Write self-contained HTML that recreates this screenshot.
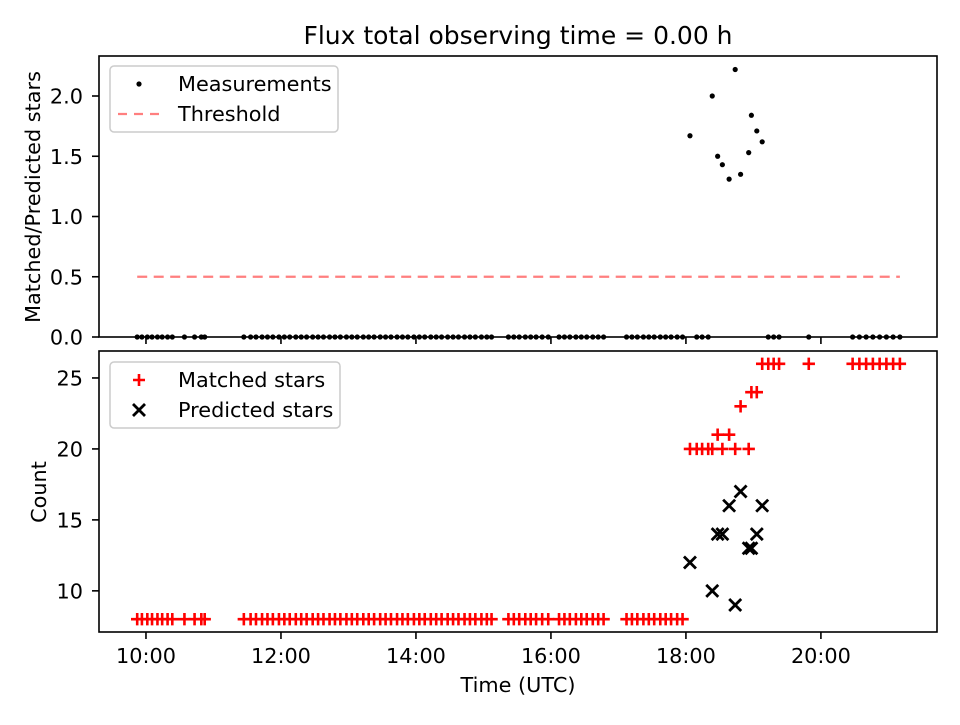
<!DOCTYPE html>
<html><head><meta charset="utf-8"><style>
body{margin:0;background:#fff}
svg{font-family:"DejaVu Sans","Liberation Sans",sans-serif}
</style></head><body>
<svg id="chart" width="960" height="720" viewBox="0 0 960 720" xmlns="http://www.w3.org/2000/svg">
<rect width="960" height="720" fill="#fff"/>
<text x="518" y="44" text-anchor="middle" font-size="25">Flux total observing time = 0.00 h</text>
<g id="topg"></g><g id="botg"></g>
</svg>
<script>
const times=[9.87,9.94,10.02,10.09,10.17,10.24,10.32,10.39,10.57,10.72,10.82,10.87,
11.45,11.55,11.63,11.72,11.80,11.88,11.97,12.05,12.13,12.22,12.30,12.38,12.47,12.55,12.63,12.72,12.80,12.88,12.97,13.05,13.13,13.22,13.30,13.38,13.47,13.55,13.63,13.72,13.80,13.88,13.97,14.05,14.13,14.22,14.30,14.38,14.47,14.55,14.63,14.72,14.80,14.88,14.97,15.05,15.12,
15.37,15.45,15.53,15.62,15.70,15.78,15.87,15.96,
16.12,16.20,16.28,16.37,16.45,16.53,16.62,16.70,16.78,
17.12,17.20,17.28,17.37,17.45,17.53,17.62,17.70,17.78,17.87,17.95,
18.06,18.16,18.24,18.33,18.39,18.47,18.54,18.64,18.73,18.81,18.93,18.97,19.05,
19.13,19.22,19.30,19.38,19.82,
20.47,20.57,20.67,20.77,20.87,20.97,21.07,21.17];
const matched=[8,8,8,8,8,8,8,8,8,8,8,8,
8,8,8,8,8,8,8,8,8,8,8,8,8,8,8,8,8,8,8,8,8,8,8,8,8,8,8,8,8,8,8,8,8,8,8,8,8,8,8,8,8,8,8,8,8,
8,8,8,8,8,8,8,8,
8,8,8,8,8,8,8,8,8,
8,8,8,8,8,8,8,8,8,8,8,
20,20,20,20,20,21,20,21,20,23,20,24,24,
26,26,26,26,26,
26,26,26,26,26,26,26,26];
const predTimes=[18.06,18.39,18.47,18.54,18.64,18.73,18.81,18.93,18.97,19.05,19.13];
const predCounts=[12,10,14,14,16,9,17,13,13,14,16];
const measTimes=[18.06,18.39,18.47,18.54,18.64,18.73,18.81,18.93,18.97,19.05,19.13];
const measVals=[1.67,2.00,1.50,1.43,1.31,2.22,1.35,1.53,1.84,1.71,1.62];
const xTickVals=[10,12,14,16,18,20];
const xTickLabels=["10:00","12:00","14:00","16:00","18:00","20:00"];
const topTicks=[0,0.5,1,1.5,2];
const topTickLabels=["0.0","0.5","1.0","1.5","2.0"];
const botTicks=[10,15,20,25];
const threshold=0.5;

const NS="http://www.w3.org/2000/svg";
const L=99,R=937,FS=20.8;
const X=t=>L+(t-9.304)/(21.72-9.304)*(R-L);
const YT=v=>337-(v-0)/2.332*(337-56);
const YB=v=>632-(v-7.1)/(26.9-7.1)*(632-351);
function mk(p,tag,a){const e=document.createElementNS(NS,tag);for(const k in a)e.setAttribute(k,a[k]);p.appendChild(e);return e;}
const topG=document.getElementById('topg'),botG=document.getElementById('botg');

xTickVals.forEach((v,i)=>{
  mk(topG,'line',{x1:X(v),x2:X(v),y1:337,y2:344,stroke:'#000','stroke-width':1.6});
  mk(botG,'line',{x1:X(v),x2:X(v),y1:632,y2:639,stroke:'#000','stroke-width':1.6});
  const t=mk(botG,'text',{x:X(v),y:663,'text-anchor':'middle','font-size':FS});
  t.textContent=xTickLabels[i];
  
  
});
topTicks.forEach((v,i)=>{
  mk(topG,'line',{x1:L-7,x2:L,y1:YT(v),y2:YT(v),stroke:'#000','stroke-width':1.6});
  const t=mk(topG,'text',{x:83,y:YT(v)+7.5,'text-anchor':'end','font-size':FS});
  t.textContent=topTickLabels[i];
  
  
});
botTicks.forEach(v=>{
  mk(botG,'line',{x1:L-7,x2:L,y1:YB(v),y2:YB(v),stroke:'#000','stroke-width':1.6});
  const t=mk(botG,'text',{x:83,y:YB(v)+7.5,'text-anchor':'end','font-size':FS});
  t.textContent=v;
  
  
});
let t=mk(topG,'text',{x:0,y:0,'text-anchor':'middle','font-size':FS,transform:'translate(40,197) rotate(-90)'});
t.textContent='Matched/Predicted stars';


t=mk(botG,'text',{x:0,y:0,'text-anchor':'middle','font-size':FS,transform:'translate(46,492) rotate(-90)'});
t.textContent='Count';


t=mk(botG,'text',{x:518,y:692,'text-anchor':'middle','font-size':FS});
t.textContent='Time (UTC)';



const tmin=Math.min(...times),tmax=Math.max(...times);
let th=mk(topG,'line',{x1:X(tmin),x2:X(tmax),y1:YT(threshold),y2:YT(threshold),stroke:'#ff7f7f','stroke-width':2.2,'stroke-dasharray':'10,6.5'});



times.forEach(tt=>{
  if(measTimes.includes(tt))return;
  const c=mk(topG,'circle',{cx:X(tt),cy:YT(0),r:2.6,fill:'#000'});
  
  
});
measTimes.forEach((tt,i)=>{
  const c=mk(topG,'circle',{cx:X(tt),cy:YT(measVals[i]),r:2.6,fill:'#000'});
  
  
});

times.forEach((tt,i)=>{
  const x=X(tt),y=YB(matched[i]);
  const p=mk(botG,'path',{d:`M${x-6.2},${y}H${x+6.2}M${x},${y-6.2}V${y+6.2}`,stroke:'#f00','stroke-width':2.6,fill:'none'});
  
  
});
predTimes.forEach((tt,i)=>{
  const x=X(tt),y=YB(predCounts[i]);
  const p=mk(botG,'path',{d:`M${x-6},${y-6}L${x+6},${y+6}M${x-6},${y+6}L${x+6},${y-6}`,stroke:'#000','stroke-width':2.8,fill:'none'});
  
  
});

let f=mk(topG,'rect',{x:L,y:56,width:R-L,height:281,fill:'none',stroke:'#000','stroke-width':1.6});


f=mk(botG,'rect',{x:L,y:351,width:R-L,height:281,fill:'none',stroke:'#000','stroke-width':1.6});



let lg=mk(topG,'g',{});


mk(lg,'rect',{x:110,y:66,width:228,height:66,rx:4,fill:'#fff','fill-opacity':0.8,stroke:'#ccc','stroke-width':1.5});
mk(lg,'circle',{cx:139,cy:84,r:2.6,fill:'#000'});
t=mk(lg,'text',{x:178,y:91,'font-size':FS});t.textContent='Measurements';
mk(lg,'line',{x1:118,x2:160,y1:114,y2:114,stroke:'#ff7f7f','stroke-width':2.2,'stroke-dasharray':'9,7'});
t=mk(lg,'text',{x:178,y:121,'font-size':FS});t.textContent='Threshold';

lg=mk(botG,'g',{});


mk(lg,'rect',{x:110,y:362,width:230,height:66,rx:4,fill:'#fff','fill-opacity':0.8,stroke:'#ccc','stroke-width':1.5});
mk(lg,'path',{d:'M133,380H145M139,374V386',stroke:'#f00','stroke-width':2.6});
t=mk(lg,'text',{x:178,y:387,'font-size':FS});t.textContent='Matched stars';
mk(lg,'path',{d:'M133,404L145,416M133,416L145,404',stroke:'#000','stroke-width':2.8});
t=mk(lg,'text',{x:178,y:417,'font-size':FS});t.textContent='Predicted stars';
</script>
</body></html>
